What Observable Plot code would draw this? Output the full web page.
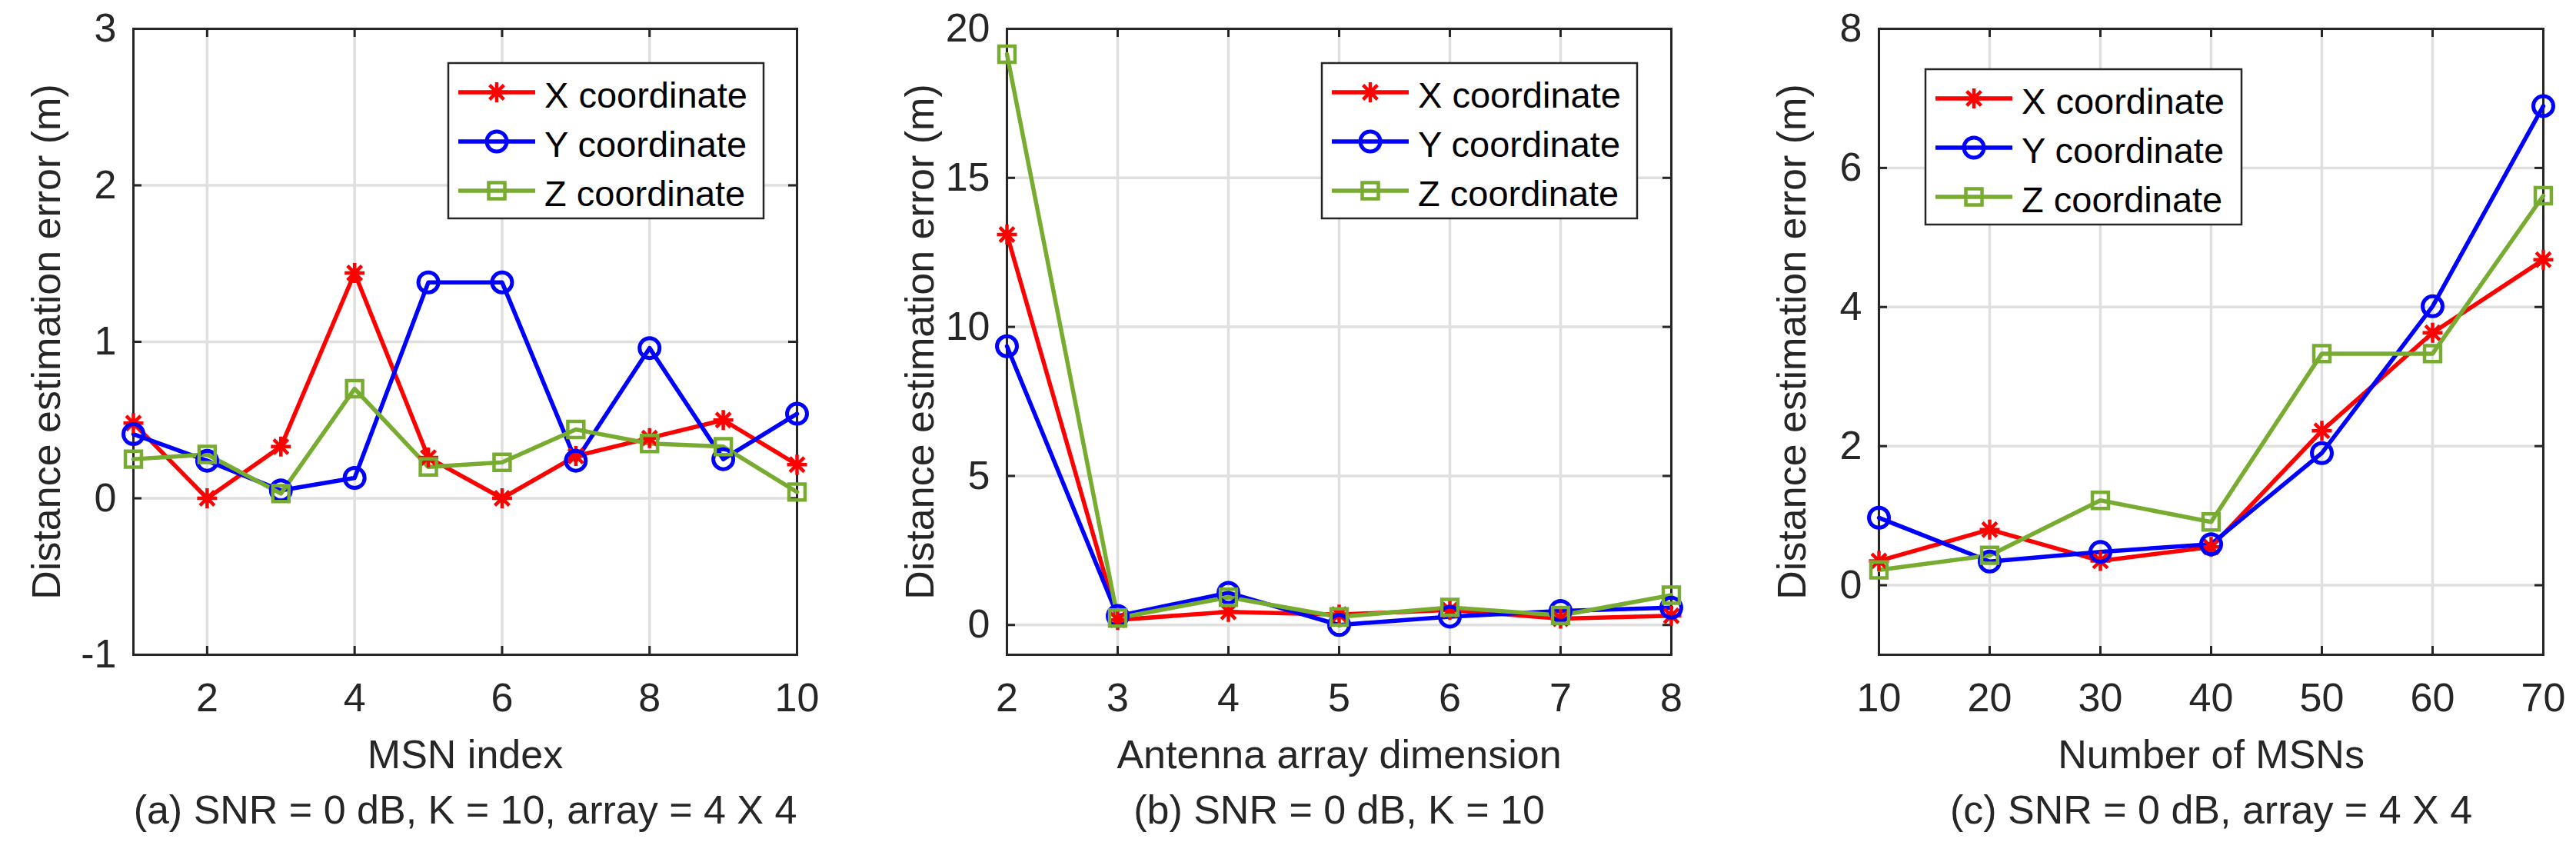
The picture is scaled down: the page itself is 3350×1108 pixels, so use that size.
<!DOCTYPE html>
<html><head><meta charset="utf-8">
<script src="https://cdn.jsdelivr.net/npm/d3@7"></script>
<script src="https://cdn.jsdelivr.net/npm/@observablehq/plot@0.6"></script>
<style>
html,body{margin:0;padding:0;background:#fff;}
#wrap{display:flex;width:3350px;height:1108px;overflow:hidden;}
#wrap svg{display:block;flex:none;}
</style></head><body><div id="wrap"></div>
<script>
// ---------- data ----------
const seriesNames = ["X coordinate", "Y coordinate", "Z coordinate"];
const seriesColors = ["#ff0000", "#0000ff", "#77ac30"];

// (a) MSN index
const msnIndex = [1, 2, 3, 4, 5, 6, 7, 8, 9, 10];
const aX = [0.48, 0.0, 0.33, 1.44, 0.26, 0.0, 0.27, 0.385, 0.50, 0.215];
const aY = [0.41, 0.24, 0.05, 0.13, 1.38, 1.38, 0.24, 0.96, 0.25, 0.54];
const aZ = [0.25, 0.28, 0.03, 0.70, 0.20, 0.23, 0.44, 0.35, 0.33, 0.04];
const aXTicks = [2, 4, 6, 8, 10];
const aYTicks = [-1, 0, 1, 2, 3];

// (b) Antenna array dimension
const arrayDim = [2, 3, 4, 5, 6, 7, 8];
const bX = [13.1, 0.17, 0.44, 0.35, 0.50, 0.21, 0.31];
const bY = [9.35, 0.30, 1.08, 0.0, 0.28, 0.47, 0.58];
const bZ = [19.15, 0.23, 0.93, 0.27, 0.59, 0.32, 1.0];
const bXTicks = [2, 3, 4, 5, 6, 7, 8];
const bYTicks = [0, 5, 10, 15, 20];

// (c) Number of MSNs
const numMSN = [10, 20, 30, 40, 50, 60, 70];
const cX = [0.35, 0.80, 0.35, 0.55, 2.22, 3.63, 4.68];
const cY = [0.97, 0.34, 0.48, 0.59, 1.90, 4.01, 6.89];
const cZ = [0.22, 0.43, 1.22, 0.91, 3.33, 3.33, 5.60];
const cXTicks = [10, 20, 30, 40, 50, 60, 70];
const cYTicks = [0, 2, 4, 6, 8];

const yLabel = "Distance estimation error (m)";

// ---------- styling ----------
const FONT = "'Liberation Sans', Arial, Helvetica, sans-serif";
const INK = "#262626";
const GRID = "#dfdfdf";
const H = 1108, MT = 37, MB = 257;
const FH = H - MT - MB;
const LINE_W = 5.5;

// MATLAB-like 8-armed asterisk
const asterisk8 = {
  draw(ctx, size) {
    const r = Math.sqrt(size / Math.PI);
    const d = r * 0.72;
    ctx.moveTo(0, -r); ctx.lineTo(0, r);
    ctx.moveTo(-r, 0); ctx.lineTo(r, 0);
    ctx.moveTo(-d, -d); ctx.lineTo(d, d);
    ctx.moveTo(-d, d); ctx.lineTo(d, -d);
  }
};
const markers = ["asterisk", "circle", "square"];

function rowsOf(xs, vals) { return xs.map((x, i) => ({x, v: vals[i]})); }

function dotMark(kind, data, color) {
  if (kind === "asterisk")
    return Plot.dot(data, {x: "x", y: "v", symbol: asterisk8, r: 13, stroke: color, fill: "none", strokeWidth: 4.5, strokeLinecap: "butt"});
  if (kind === "circle")
    return Plot.dot(data, {x: "x", y: "v", symbol: "circle", r: 13, stroke: color, fill: "none", strokeWidth: 5});
  return Plot.dot(data, {x: "x", y: "v", symbol: "square", r: 11.8, stroke: color, fill: "none", strokeWidth: 4.5, strokeLinejoin: "miter"});
}

function panel(cfg) {
  const FW = cfg.width - cfg.ml - cfg.mr;
  const seriesVals = [cfg.X, cfg.Y, cfg.Z];
  const marks = [
    Plot.gridX(cfg.xTicks, {stroke: GRID, strokeOpacity: 1, strokeWidth: 3.5}),
    Plot.gridY(cfg.yTicks, {stroke: GRID, strokeOpacity: 1, strokeWidth: 3.5}),
    Plot.frame({stroke: INK, strokeWidth: 3}),
    Plot.tickX(cfg.xTicks, {x: d => d, stroke: INK, strokeWidth: 3, insetTop: FH - 11}),
    Plot.tickX(cfg.xTicks, {x: d => d, stroke: INK, strokeWidth: 3, insetBottom: FH - 11}),
    Plot.tickY(cfg.yTicks, {y: d => d, stroke: INK, strokeWidth: 3, insetRight: FW - 11}),
    Plot.tickY(cfg.yTicks, {y: d => d, stroke: INK, strokeWidth: 3, insetLeft: FW - 11})
  ];
  seriesVals.forEach((vals, i) => {
    marks.push(Plot.line(rowsOf(cfg.xs, vals), {x: "x", y: "v", stroke: seriesColors[i], strokeWidth: LINE_W}));
  });
  seriesVals.forEach((vals, i) => {
    marks.push(dotMark(markers[i], rowsOf(cfg.xs, vals), seriesColors[i]));
  });
  marks.push(
    Plot.axisX({ticks: cfg.xTicks, tickSize: 0, tickPadding: 37, label: null, fontSize: 52, fill: INK, tickFormat: d => String(d)}),
    Plot.axisY({ticks: cfg.yTicks, tickSize: 0, tickPadding: 22, label: null, fontSize: 52, fill: INK, tickFormat: d => String(d)}),
    Plot.text([cfg.xLabel], {text: d => d, frameAnchor: "bottom", dy: 111, lineAnchor: "top", fontSize: 52, fill: INK}),
    Plot.text([cfg.caption], {text: d => d, frameAnchor: "bottom", dy: 183, lineAnchor: "top", fontSize: 52, fill: INK}),
    Plot.text([yLabel], {text: d => d, frameAnchor: "left", rotate: -90, dx: -132, lineAnchor: "top", textAnchor: "middle", fontSize: 52, fill: INK})
  );
  const svg = Plot.plot({
    width: cfg.width, height: H,
    marginLeft: cfg.ml, marginRight: cfg.mr, marginTop: MT, marginBottom: MB,
    x: {domain: cfg.xDomain},
    y: {domain: cfg.yDomain},
    style: {fontFamily: FONT, fontSize: "52px", background: "white", color: INK, overflow: "visible"},
    marks
  });
  // legend box (drawn in pixel space)
  const g = d3.select(svg).append("g").attr("font-family", FONT).attr("text-anchor", "start");
  const lx = cfg.legendX, ly = cfg.legendY, lw = cfg.legendW, lh = 202;
  g.append("rect").attr("x", lx).attr("y", ly).attr("width", lw).attr("height", lh)
    .attr("fill", "white").attr("stroke", INK).attr("stroke-width", 2.5);
  seriesNames.forEach((name, i) => {
    const cy = ly + 38 + 64 * i;
    const c = seriesColors[i];
    g.append("line").attr("x1", lx + 13).attr("x2", lx + 113).attr("y1", cy).attr("y2", cy)
      .attr("stroke", c).attr("stroke-width", LINE_W);
    const mx = lx + 63;
    if (markers[i] === "asterisk") {
      g.append("path").attr("d", d3.symbol(asterisk8, Math.PI * 13 * 13)())
        .attr("transform", `translate(${mx},${cy})`).attr("fill", "none").attr("stroke", c).attr("stroke-width", 4.5);
    } else if (markers[i] === "circle") {
      g.append("circle").attr("cx", mx).attr("cy", cy).attr("r", 13)
        .attr("fill", "none").attr("stroke", c).attr("stroke-width", 5);
    } else {
      g.append("rect").attr("x", mx - 10.5).attr("y", cy - 10.5).attr("width", 21).attr("height", 21)
        .attr("fill", "none").attr("stroke", c).attr("stroke-width", 4.5);
    }
    g.append("text").attr("x", lx + 125).attr("y", cy + 20).attr("font-size", 47)
      .attr("text-anchor", "start").attr("fill", "#000").text(name);
  });
  return svg;
}

const wrap = document.getElementById("wrap");
wrap.appendChild(panel({
  width: 1117, ml: 173, mr: 81,
  xs: msnIndex, X: aX, Y: aY, Z: aZ,
  xDomain: [1, 10], yDomain: [-1, 3], xTicks: aXTicks, yTicks: aYTicks,
  xLabel: "MSN index", caption: "(a) SNR = 0 dB, K = 10, array = 4 X 4",
  legendX: 583, legendY: 82, legendW: 410
}));
wrap.appendChild(panel({
  width: 1117, ml: 192, mr: 61,
  xs: arrayDim, X: bX, Y: bY, Z: bZ,
  xDomain: [2, 8], yDomain: [-1, 20], xTicks: bXTicks, yTicks: bYTicks,
  xLabel: "Antenna array dimension", caption: "(b) SNR = 0 dB, K = 10",
  legendX: 602, legendY: 82, legendW: 410
}));
wrap.appendChild(panel({
  width: 1116, ml: 209, mr: 43,
  xs: numMSN, X: cX, Y: cY, Z: cZ,
  xDomain: [10, 70], yDomain: [-1, 8], xTicks: cXTicks, yTicks: cYTicks,
  xLabel: "Number of MSNs", caption: "(c) SNR = 0 dB, array = 4 X 4",
  legendX: 270, legendY: 90, legendW: 411
}));
</script>
</body></html>
